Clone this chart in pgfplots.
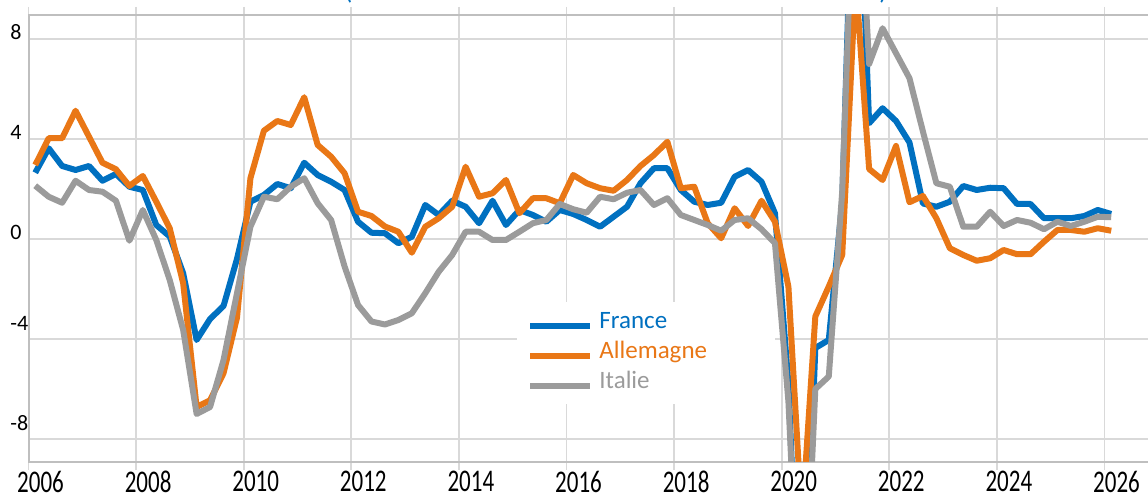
\documentclass[border=0pt]{standalone}
\usepackage{pgfplots}
\pgfplotsset{compat=1.18}
\usepackage{pgfplotstable}
\usepackage{graphicx}
\usepackage{fontspec}
\setmainfont{Carlito}
\definecolor{fr}{HTML}{0070C0}
\definecolor{de}{HTML}{E97716}
\definecolor{it}{HTML}{9B9B9B}
\definecolor{gridc}{HTML}{D9D9D9}
\definecolor{axc}{HTML}{BFBFBF}
\newcommand\xl[1]{\scalebox{1}[1.37]{\fontsize{11.5pt}{12pt}\selectfont #1}}
\newcommand\yl[2]{\raisebox{#1}[0pt][0pt]{\fontsize{11pt}{12pt}\selectfont #2}}

\pgfplotstableread{
x fr de it
2006.125 2.65 2.96 2.13
2006.375 3.63 4.03 1.69
2006.625 2.92 4.03 1.45
2006.875 2.76 5.13 2.33
2007.125 2.92 4.09 1.96
2007.375 2.33 3.05 1.89
2007.625 2.60 2.79 1.53
2007.875 2.09 2.12 -0.07
2008.125 1.96 2.52 1.16
2008.375 0.56 1.49 -0.04
2008.625 0.10 0.43 -1.64
2008.875 -1.37 -1.77 -3.64
2009.125 -4.04 -6.72 -7.00
2009.375 -3.20 -6.45 -6.72
2009.625 -2.68 -5.37 -4.84
2009.875 -0.80 -3.15 -2.17
2010.125 1.49 2.43 0.49
2010.375 1.76 4.33 1.69
2010.625 2.20 4.72 1.59
2010.875 2.03 4.56 2.09
2011.125 3.05 5.67 2.43
2011.375 2.56 3.76 1.43
2011.625 2.29 3.29 0.76
2011.875 1.96 2.63 -1.10
2012.125 0.69 1.09 -2.64
2012.375 0.25 0.92 -3.30
2012.625 0.23 0.50 -3.42
2012.875 -0.17 0.29 -3.24
2013.125 0.09 -0.55 -2.97
2013.375 1.36 0.49 -2.17
2013.625 0.96 0.83 -1.31
2013.875 1.53 1.29 -0.64
2014.125 1.29 2.89 0.29
2014.375 0.63 1.69 0.29
2014.625 1.53 1.83 -0.04
2014.875 0.56 2.36 -0.04
2015.125 1.16 1.03 0.29
2015.375 0.96 1.63 0.63
2015.625 0.69 1.63 0.76
2015.875 1.16 1.43 1.40
2016.125 1.00 2.56 1.19
2016.375 0.76 2.23 1.05
2016.625 0.49 2.03 1.69
2016.875 0.89 1.93 1.59
2017.125 1.29 2.36 1.85
2017.375 2.23 2.92 1.96
2017.625 2.83 3.36 1.36
2017.875 2.83 3.89 1.63
2018.125 1.96 2.03 0.96
2018.375 1.49 2.09 0.76
2018.625 1.36 0.63 0.56
2018.875 1.45 0.03 0.33
2019.125 2.49 1.23 0.76
2019.375 2.76 0.52 0.83
2019.625 2.29 1.53 0.39
2019.875 1.03 0.69 -0.17
2020.125 -5.80 -1.91 -6.50
2020.375 -18.60 -11.30 -18.00
2020.625 -4.36 -3.10 -6.00
2020.875 -4.04 -1.90 -5.50
2021.125 1.50 -0.64 1.90
2021.375 18.80 10.40 17.00
2021.625 4.63 2.80 7.00
2021.875 5.23 2.36 8.43
2022.125 4.72 3.72 7.43
2022.375 3.86 1.47 6.43
2022.625 1.42 1.72 4.30
2022.875 1.29 0.83 2.23
2023.125 1.49 -0.37 2.09
2023.375 2.12 -0.64 0.49
2023.625 1.96 -0.87 0.49
2023.875 2.05 -0.77 1.09
2024.125 2.03 -0.44 0.52
2024.375 1.40 -0.61 0.76
2024.625 1.40 -0.61 0.65
2024.875 0.83 -0.11 0.39
2025.125 0.83 0.36 0.69
2025.375 0.83 0.36 0.52
2025.625 0.92 0.29 0.69
2025.875 1.16 0.43 0.89
2026.125 1.00 0.33 0.87
}\data

\begin{document}
\begin{tikzpicture}
\begin{axis}[
  at={(14.25pt,17pt)}, anchor=south west,
  scale only axis, width=564.9pt, height=223.5pt,
  xmin=2006, xmax=2027, ymin=-8.92, ymax=8.96,
  axis line style={draw=axc, line width=1pt},
  xtick={2006,2008,2010,2012,2014,2016,2018,2020,2022,2024,2026},
  xticklabels={\xl{2006},\xl{2008},\xl{2010},\xl{2012},\xl{2014},\xl{2016},\xl{2018},\xl{2020},\xl{2022},\xl{2024},\xl{2026}},
  xtick align=outside, major tick length=4pt,
  xtick style={draw=gridc, line width=0.85pt},
  ytick={-8,-4,0,4,8}, ytick style={draw=none},
  yticklabels={\yl{4pt}{-8},\yl{4pt}{-4},\yl{-0.5pt}{0},\yl{-0.5pt}{4},\yl{-0.5pt}{8}},
  yticklabel style={anchor=west, inner sep=0pt, xshift=-9.25pt},
  xticklabel style={anchor=north, inner sep=0pt, xshift=6pt, yshift=-0.5pt},
  grid=major, grid style={draw=gridc, line width=0.85pt},
  legend cell align=left,
  legend style={at={(axis cs:2015.08,-2.50)}, anchor=north west, draw=none, fill=white,
    inner xsep=5pt, inner ysep=4.5pt, row sep=3pt,
    font=\fontsize{12.5pt}{14pt}\selectfont,
    nodes={inner sep=0pt, text height=9pt, text depth=3pt},
    /tikz/every odd column/.append style={column sep=3pt},
    /tikz/every even column/.append style={text width=83pt}},
  legend image code/.code={\draw[#1, line width=3pt] (0pt,-1.5pt) -- (30pt,-1.5pt);},
  every axis plot/.append style={line width=3pt, line join=round},
]
\addplot[fr, no markers] table[x=x, y=fr] {\data};
\addlegendentry{\textcolor{fr}{France}}
\addplot[de, no markers] table[x=x, y=de] {\data};
\addlegendentry{\textcolor{de}{Allemagne}}
\addplot[it, no markers] table[x=x, y=it] {\data};
\addlegendentry{\textcolor{it}{Italie}}
\end{axis}
\node[anchor=base, text=fr, inner sep=0pt] at (308pt,248.4pt)
  {\resizebox{271.5pt}{!}{(Taux de croissance annuel du PIB en volume en \%)}};
\pgfresetboundingbox
\useasboundingbox (0,0) rectangle (574pt,248pt);
\end{tikzpicture}
\end{document}
